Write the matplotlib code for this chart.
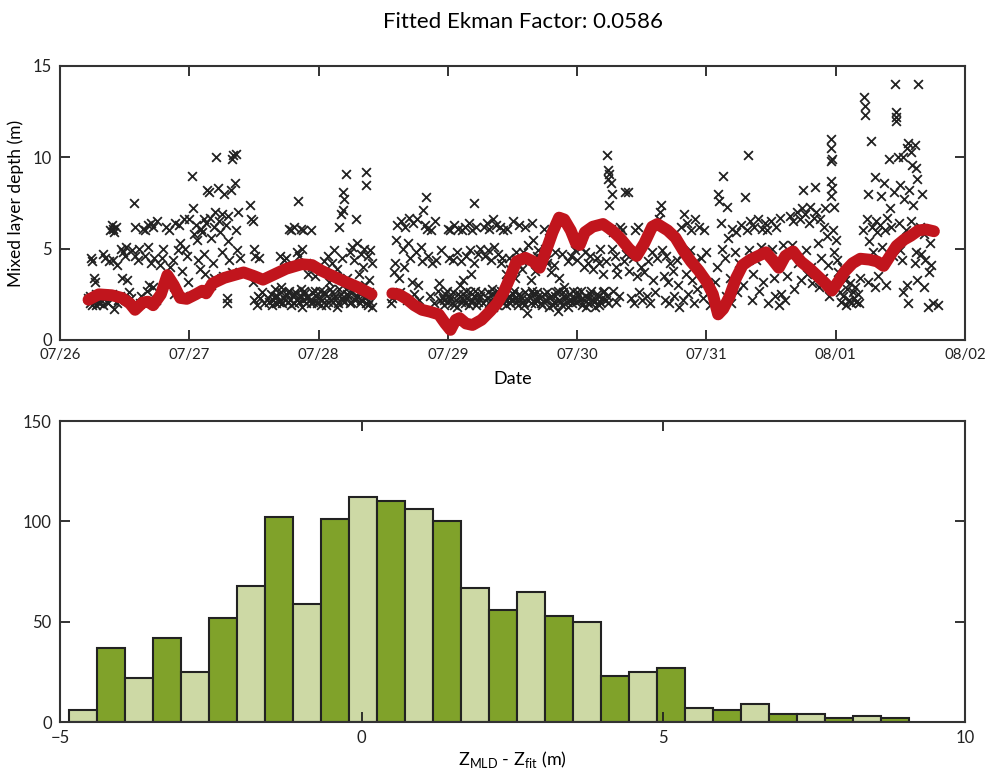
import numpy as np
import matplotlib
matplotlib.use("Agg")
import matplotlib.pyplot as plt

plt.rcParams['font.family'] = ['Lato', 'DejaVu Sans']
plt.rcParams['mathtext.fontset'] = 'custom'
plt.rcParams['mathtext.rm'] = 'Lato'

# --- top panel: observed mixed layer depth (days after 07/26) ---
mld_time = [
    0.22, 0.23, 0.24, 0.25, 0.26, 0.27, 0.27, 0.28, 0.29, 0.30, 0.31, 0.33, 0.33, 0.35, 0.36, 0.38, 0.39, 0.40, 0.41, 0.42,
    0.43, 0.41, 0.44, 0.42, 0.45, 0.40,
    0.47, 0.49, 0.50, 0.51, 0.48, 0.52, 0.53, 0.55, 0.57, 0.58, 0.56, 0.58, 0.60, 0.62, 0.63, 0.61, 0.64, 0.66, 0.68, 0.70,
    0.72, 0.66, 0.68, 0.70, 0.73, 0.69, 0.72, 0.74, 0.67, 0.75,
    0.77, 0.79, 0.80, 0.82, 0.84, 0.85, 0.87, 0.88, 0.89, 0.91, 0.92, 0.93, 0.94, 0.96, 0.97, 0.98, 0.99, 0.95, 1.00, 1.02,
    1.03, 1.04, 1.05, 1.06, 1.07, 1.08, 1.09, 1.10, 1.11, 1.12, 1.13, 1.14, 1.15, 1.16, 1.17, 1.18, 1.19, 1.20, 1.21, 1.22,
    1.23, 1.24, 1.25, 1.26, 1.27, 1.28, 1.29, 1.29, 1.30, 1.31, 1.32, 1.33, 1.34, 1.35, 1.36, 1.37, 1.36, 1.38, 1.39, 1.33,
    1.30, 1.25, 1.19, 1.11, 1.17,
    1.47, 1.48, 1.49, 1.50, 1.51, 1.50, 1.52, 1.53, 1.49, 1.54, 1.55, 1.56, 1.58,
    1.62, 1.63, 1.65, 1.66, 1.67, 1.68, 1.70, 1.71, 1.72, 1.73, 1.75, 1.76, 1.77, 1.78, 1.80, 1.81, 1.82, 1.84, 1.85, 1.86,
    1.88, 1.89, 1.90, 1.92, 1.93, 1.95, 1.96, 1.98, 1.99, 2.01, 1.73, 1.75, 1.77, 1.79, 1.81, 1.84, 1.86, 1.88, 1.83, 1.85,
    1.87, 1.90, 1.92, 1.95, 1.97, 1.70, 1.94,
    2.03, 2.05, 2.06, 2.08, 2.10, 2.11, 2.13, 2.15, 2.16, 2.18, 2.20, 2.22, 2.24, 2.26, 2.28, 2.30, 2.32, 2.34, 2.36, 2.38,
    2.40, 2.41, 2.04, 2.07, 2.10, 2.12, 2.14, 2.16, 2.17, 2.18, 2.19, 2.19, 2.20, 2.21, 2.22, 2.24, 2.25, 2.27, 2.29, 2.30,
    2.31, 2.33, 2.34, 2.35, 2.37, 2.37, 2.38, 2.39, 2.40, 2.41, 2.36, 2.26, 2.08, 2.13,
    2.56, 2.57, 2.58, 2.59, 2.60, 2.61, 2.62, 2.63, 2.64, 2.65, 2.66, 2.67, 2.68, 2.69, 2.70, 2.71, 2.72, 2.73, 2.74, 2.75,
    2.76, 2.77, 2.78, 2.79, 2.80, 2.81, 2.82, 2.83, 2.84, 2.85, 2.86, 2.87, 2.88, 2.89, 2.90, 2.91, 2.92, 2.93, 2.94, 2.95,
    2.96, 2.97, 2.98, 3.00, 3.01, 3.03, 3.04, 3.06, 3.07, 3.09, 3.10, 3.12, 3.13, 3.15, 3.17, 3.18, 3.20, 3.22, 3.24, 3.26,
    3.00, 3.02, 3.05, 3.08, 3.11, 3.13, 3.16, 3.19, 3.20, 3.22, 3.01, 3.04, 3.07, 3.10, 3.14, 3.17, 3.20, 3.23, 3.12, 3.18,
    3.09, 3.25,
    3.28, 3.30, 3.32, 3.35, 3.37, 3.40, 3.43, 3.46, 3.50, 3.55, 3.60, 3.65, 3.29, 3.31, 3.33, 3.36, 3.39, 3.42, 3.34, 3.38,
    3.30, 3.32, 3.34, 3.36, 3.38, 3.40, 3.42, 3.44, 3.46, 3.48, 3.50, 3.52, 3.54, 3.56, 3.58, 3.60, 3.61, 3.62, 3.64, 3.66,
    3.68, 3.70, 3.45, 3.48, 3.52, 3.55, 3.58, 3.62, 3.66, 3.69, 3.64, 3.67,
    3.72, 3.74, 3.76, 3.78, 3.80, 3.82, 3.84, 3.86, 3.88, 3.90, 3.92, 3.94, 3.96, 3.98, 4.00, 4.02, 4.04, 4.06, 4.08, 4.10,
    4.12, 4.14, 4.16, 4.18, 4.20, 4.22, 4.24, 3.85,
    3.72, 3.75, 3.77, 3.80, 3.83, 3.86, 3.74, 3.78, 3.90, 3.95, 4.00, 4.03, 4.06, 4.08, 4.12, 4.15, 4.18, 4.20, 4.22,
    4.23, 4.24, 4.24, 4.25, 4.26, 4.27, 4.25, 4.26, 4.28, 4.27, 4.29, 4.30, 4.31, 4.28, 4.30, 4.32, 4.33, 4.35, 4.37, 4.39,
    4.36, 4.38, 4.40, 4.42, 4.44, 4.45, 4.47, 4.43, 4.46, 4.48, 4.49, 4.50,
    4.52, 4.54, 4.55, 4.56, 4.58, 4.59, 4.60, 4.62, 4.63, 4.64, 4.65, 4.66, 4.67, 4.68, 4.69, 4.70, 4.71, 4.72, 4.74, 4.75,
    4.77, 4.78, 4.79, 4.80, 4.81, 4.82, 4.83, 4.84, 4.85, 4.86, 4.87, 4.88, 4.89, 4.90, 4.91, 4.92, 4.93, 4.94, 4.96, 4.97,
    4.98, 4.99, 5.00, 5.02, 5.03,
    5.07, 5.08, 5.09, 5.10, 5.11, 5.12, 5.13, 5.14, 5.15, 5.16, 5.17, 5.18, 5.19, 5.20, 5.22, 5.23, 5.24, 5.25, 5.27, 5.28,
    5.30, 5.32, 5.31, 5.33, 5.34, 5.35, 5.36, 5.37, 5.38, 5.40, 5.41, 5.42, 5.43, 5.44, 5.45, 5.46, 5.47, 5.48, 5.50, 5.51,
    5.52, 5.53, 5.54, 5.55, 5.56, 5.57, 5.58, 5.59,
    5.61, 5.62, 5.63, 5.65, 5.66, 5.67, 5.68, 5.70, 5.71, 5.72, 5.73, 5.75, 5.74, 5.76, 5.77, 5.78, 5.79, 5.80, 5.81, 5.82,
    5.83, 5.84, 5.85, 5.86, 5.87, 5.88, 5.89, 5.90, 5.91, 5.92, 5.93, 5.94, 5.95, 5.96, 5.96, 5.96, 5.97, 5.96, 5.97, 5.96,
    5.99, 5.98, 5.99, 6.00, 5.98,
    6.01, 6.02, 6.03, 6.04, 6.05, 6.06, 6.07, 6.08, 6.09, 6.10, 6.11, 6.12, 6.13, 6.14, 6.15, 6.16, 6.17, 6.18, 6.19,
    6.21, 6.22, 6.23, 6.23, 6.24, 6.25, 6.26, 6.27, 6.28, 6.29, 6.30, 6.31, 6.32, 6.33, 6.34, 6.35, 6.36, 6.37, 6.38, 6.39,
    6.40, 6.25, 6.30,
    6.41, 6.42, 6.43, 6.44, 6.45, 6.46, 6.47, 6.47, 6.47, 6.48, 6.49, 6.50, 6.51, 6.52, 6.52, 6.53, 6.54, 6.55, 6.56, 6.56,
    6.57, 6.58, 6.58, 6.59, 6.60, 6.61, 6.61, 6.62, 6.63, 6.63, 6.64, 6.65, 6.66, 6.67, 6.68, 6.69, 6.70, 6.71, 6.72, 6.73,
    6.74, 6.75, 6.68, 6.62, 6.55, 6.50, 6.79,
    # dense shallow band and mid band readings
    1.61, 1.64, 1.66, 1.69, 1.71, 1.74, 1.76, 1.79, 1.81, 1.83, 1.86, 1.87, 1.89, 1.91, 1.94, 1.97, 2.00, 2.02, 2.04, 2.07,
    2.09, 2.12, 2.14, 2.17, 2.19, 2.21, 2.23, 2.25, 2.27, 2.29, 2.31, 2.33, 2.35, 2.37, 2.39,
    2.97, 2.99, 3.02, 3.05, 3.08, 3.11, 3.14, 3.16, 3.19, 3.21, 3.23, 3.25, 3.27, 3.31, 3.33, 3.35, 3.37, 3.39, 3.41, 3.43,
    3.45, 3.47, 3.49, 3.51, 3.53, 3.55, 3.57, 3.59, 3.63, 3.65, 3.67, 3.69, 3.71, 3.73, 3.75, 3.77, 3.79, 3.81, 3.83, 3.85,
    3.87, 3.89, 3.91, 3.93, 3.95, 3.97, 3.99, 4.01, 4.03, 4.05, 4.07, 4.09, 4.11, 4.13, 4.15, 4.17, 4.19, 4.21, 4.23,
    0.23, 0.25, 0.26, 0.28, 0.30, 0.32, 0.34, 0.37, 0.44, 0.46,
    3.41, 3.47, 3.53, 3.57, 3.63, 3.70, 3.76, 3.82, 3.88, 3.93, 3.98, 4.05, 4.10, 4.17,
]
mld_depth = [
    2.3, 2.0, 4.5, 4.3, 3.4, 3.2, 2.2, 1.9, 2.1, 2.3, 2.0, 1.9, 4.7, 4.5, 2.1, 4.3, 6.0, 6.3, 6.1, 5.9,
    6.2, 4.4, 4.1, 1.7, 2.2, 2.5,
    5.0, 4.8, 4.6, 5.1, 3.4, 3.3, 2.6, 2.3, 7.5, 6.2, 4.9, 4.6, 4.4, 2.0, 2.4, 5.0, 6.1, 6.0, 6.3, 6.4,
    6.2, 4.6, 5.1, 4.2, 4.5, 3.0, 2.9, 2.2, 2.7, 6.5,
    4.1, 4.5, 5.0, 6.2, 6.0, 4.0, 4.4, 2.5, 6.4, 4.9, 6.3, 5.3, 3.8, 6.6, 5.0, 4.6, 3.2, 2.4, 6.6, 9.0,
    7.2, 5.8, 6.3, 5.5, 4.4, 3.9, 6.1, 5.9, 4.7, 3.6, 6.4, 8.2, 8.1, 6.7, 5.6, 4.2, 3.4, 7.0, 10.0, 8.3,
    6.5, 5.9, 4.8, 3.5, 8.0, 6.3, 2.3, 2.0, 6.8, 4.4, 8.2, 9.9, 10.1, 8.6, 6.0, 4.9, 10.2, 7.0, 4.5, 3.7,
    5.4, 6.9, 6.2, 6.6, 3.0,
    7.4, 6.6, 6.5, 5.0, 4.6, 2.2, 1.9, 2.4, 3.2, 4.5, 2.3, 2.6, 2.0,
    2.1, 2.5, 2.2, 2.8, 2.0, 2.4, 2.2, 2.6, 2.0, 2.3, 2.5, 2.1, 2.7, 2.2, 2.4, 2.0, 2.6, 2.3, 2.1, 2.8,
    2.2, 2.5, 2.0, 2.4, 2.2, 2.6, 2.1, 2.4, 2.0, 2.7, 4.4, 4.5, 6.1, 6.0, 6.2, 7.6, 6.1, 6.0, 4.8, 4.6,
    5.0, 4.2, 3.6, 4.0, 3.5, 4.6, 6.0,
    2.2, 2.5, 1.9, 2.3, 2.6, 2.1, 2.4, 2.0, 2.8, 2.3, 2.1, 2.5, 2.0, 2.6, 2.2, 2.4, 2.0, 2.7, 2.3, 1.9,
    2.1, 1.8, 4.3, 4.6, 4.2, 4.9, 3.9, 6.2, 6.9, 4.5, 7.1, 8.1, 7.7, 9.1, 3.4, 4.8, 3.0, 4.4, 6.6, 5.3,
    3.6, 4.7, 4.0, 5.0, 9.2, 8.5, 4.6, 3.3, 4.9, 4.2, 3.0, 5.1, 3.2, 3.5,
    2.0, 2.3, 3.7, 4.2, 5.5, 6.3, 3.4, 2.6, 6.5, 5.0, 4.0, 6.2, 2.2, 5.3, 6.7, 4.5, 3.2, 6.4, 2.5, 4.8,
    6.6, 3.0, 2.2, 5.1, 4.3, 7.1, 6.3, 7.8, 6.1, 4.6, 2.4, 6.0, 4.2, 2.0, 6.5, 4.4, 2.7, 3.1, 2.2, 4.9,
    2.3, 1.9, 2.5, 2.1, 2.4, 2.0, 2.6, 2.2, 1.8, 2.4, 2.1, 2.5, 2.0, 2.3, 2.6, 2.1, 2.4, 1.9, 2.3, 2.6,
    6.1, 6.0, 6.3, 6.1, 6.0, 6.2, 6.4, 6.0, 7.5, 6.2, 4.5, 4.4, 4.8, 4.3, 4.6, 4.9, 4.2, 4.7, 3.3, 3.6,
    3.0, 5.0,
    6.2, 6.4, 6.1, 6.6, 6.3, 6.2, 6.0, 6.1, 6.5, 6.3, 6.2, 6.4, 4.6, 4.9, 4.4, 5.1, 4.7, 4.5, 2.8, 2.7,
    2.3, 2.0, 2.5, 2.2, 1.9, 2.4, 2.1, 2.6, 2.2, 2.0, 2.5, 2.3, 1.9, 2.4, 2.1, 2.6, 1.5, 2.2, 2.0, 2.5,
    2.2, 2.4, 3.6, 3.9, 3.4, 4.1, 4.8, 5.2, 5.5, 4.6, 3.3, 3.8,
    2.0, 2.5, 2.2, 1.8, 2.4, 2.1, 2.6, 2.2, 1.9, 2.4, 2.1, 2.5, 2.0, 2.3, 2.6, 2.2, 1.9, 2.4, 2.0, 2.5,
    2.2, 1.8, 2.4, 2.1, 2.6, 2.2, 2.0, 1.6,
    4.5, 5.0, 4.2, 3.7, 4.8, 3.4, 6.1, 5.6, 2.9, 4.6, 4.4, 5.1, 4.8, 4.2, 3.9, 4.5, 5.0, 3.6, 4.3,
    10.1, 9.3, 8.8, 9.1, 8.6, 8.0, 7.4, 6.1, 5.9, 5.0, 4.6, 4.0, 3.6, 2.7, 2.1, 2.4, 6.2, 6.0, 8.1, 8.1,
    4.3, 4.7, 3.8, 2.3, 2.0, 6.0, 6.2, 4.5, 3.5, 2.6, 4.0, 2.2,
    3.7, 2.4, 4.3, 2.0, 4.8, 3.3, 2.6, 4.5, 6.6, 7.0, 7.4, 4.9, 3.5, 2.2, 4.6, 3.2, 2.0, 4.2, 3.8, 2.4,
    4.4, 3.0, 1.8, 6.2, 4.7, 2.2, 6.9, 3.6, 6.4, 2.5, 4.9, 6.0, 3.3, 2.0, 6.6, 4.3, 2.8, 6.2, 4.5, 2.3,
    6.0, 3.1, 4.8, 2.6, 1.9,
    3.2, 4.0, 8.0, 7.6, 6.4, 5.0, 9.0, 4.5, 2.4, 7.3, 5.6, 3.4, 2.0, 6.1, 4.8, 5.9, 2.6, 4.2, 6.3, 3.0,
    7.8, 10.1, 6.0, 4.9, 6.5, 2.2, 3.6, 6.2, 4.4, 6.6, 2.7, 5.1, 6.1, 3.2, 6.4, 4.7, 6.0, 2.0, 6.5, 5.0,
    3.4, 2.4, 6.2, 4.3, 1.9, 6.7, 2.5, 5.2,
    2.2, 3.5, 4.7, 6.8, 5.2, 6.5, 2.8, 7.0, 4.2, 6.6, 3.3, 8.2, 7.2, 6.9, 4.9, 3.6, 6.4, 7.3, 4.0, 3.1,
    6.7, 8.4, 7.0, 5.3, 2.9, 6.6, 4.5, 3.4, 6.2, 7.2, 5.7, 4.1, 2.4, 11.0, 10.5, 9.8, 9.9, 8.7, 8.3, 7.9,
    7.3, 6.0, 4.8, 5.5, 3.0,
    4.4, 3.7, 2.6, 2.1, 4.0, 2.4, 3.3, 1.9, 2.8, 2.2, 3.1, 2.0, 2.6, 2.3, 2.9, 2.1, 2.5, 2.0, 3.4,
    6.0, 13.3, 12.8, 12.3, 6.6, 8.0, 5.4, 10.9, 6.2, 4.8, 8.9, 6.5, 5.9, 3.5, 6.3, 7.9, 5.1, 8.6, 6.0, 3.0,
    6.7, 3.2, 2.9,
    9.9, 7.2, 6.2, 4.6, 8.1, 14.0, 12.5, 12.2, 12.0, 10.0, 6.4, 8.5, 4.4, 2.6, 10.0, 7.7, 6.0, 10.5, 10.8, 2.0,
    8.2, 10.3, 6.5, 9.6, 7.4, 4.2, 10.7, 9.4, 8.8, 3.3, 14.0, 6.2, 4.7, 8.0, 2.9, 4.4, 6.0, 1.8, 3.7, 5.3,
    4.1, 2.0, 5.8, 4.8, 3.0, 4.9, 1.9,
    # dense shallow band and mid band readings
    2.3, 1.9, 2.4, 2.1, 2.9, 2.2, 2.6, 1.9, 2.5, 2.2, 2.4, 1.8, 2.7, 2.3, 2.0, 2.7, 2.3, 1.9, 2.6, 2.1,
    2.8, 2.3, 1.8, 2.5, 2.2, 2.8, 2.4, 2.1, 2.9, 2.3, 2.6, 2.2, 2.5, 2.0, 2.6,
    2.2, 2.7, 2.3, 1.9, 2.5, 2.3, 2.7, 1.9, 2.2, 2.7, 2.1, 2.4, 2.0, 2.6, 2.2, 1.8, 2.4, 2.2, 2.7, 2.3,
    1.9, 2.4, 2.2, 2.7, 2.1, 2.5, 2.3, 1.9, 2.4, 2.7, 2.0, 2.6, 2.3, 1.9, 2.2, 2.6, 2.3, 1.9, 2.4, 2.7,
    2.1, 2.6, 2.3, 1.8, 2.2, 2.7, 2.1, 2.4, 2.7, 2.2, 1.8, 2.3, 2.7, 2.1, 2.5, 1.9, 2.3, 2.7, 2.4,
    2.4, 1.9, 2.2, 2.5, 2.0, 2.2, 2.4, 2.0, 2.0, 2.4,
    4.2, 4.5, 4.8, 3.9, 4.4, 4.9, 4.4, 4.1, 4.7, 4.3, 4.9, 4.0, 4.6, 4.2,
]

# fitted Ekman depth (red line), two segments separated by a data gap
fit_time_a = [0.22, 0.30, 0.40, 0.48, 0.54, 0.58, 0.64, 0.68, 0.72, 0.78, 0.83, 0.88, 0.93, 0.98,
              1.05, 1.10, 1.13, 1.18, 1.27, 1.37, 1.42, 1.50, 1.57, 1.63, 1.75, 1.87, 1.95, 2.02,
              2.17, 2.30, 2.41]
fit_depth_a = [2.20, 2.50, 2.45, 2.30, 2.00, 1.65, 2.05, 2.10, 1.90, 2.50, 3.55, 3.00, 2.30, 2.25,
               2.50, 2.70, 2.55, 3.10, 3.40, 3.60, 3.70, 3.50, 3.30, 3.50, 3.90, 4.15, 4.10, 3.80,
               3.30, 2.90, 2.50]
fit_time_b = [2.57, 2.62, 2.68, 2.74, 2.80, 2.86, 2.93, 2.98, 3.02, 3.06, 3.09, 3.14, 3.19, 3.26,
              3.33, 3.38, 3.43, 3.48, 3.53, 3.60, 3.66, 3.71, 3.76, 3.81, 3.86, 3.90, 3.95, 3.99,
              4.02, 4.06, 4.12, 4.20, 4.27, 4.33, 4.40, 4.46, 4.52, 4.58, 4.62, 4.70, 4.76, 4.82,
              4.88, 4.94, 5.00, 5.05, 5.09, 5.13, 5.18, 5.23, 5.28, 5.34, 5.40, 5.46, 5.51, 5.56,
              5.61, 5.67, 5.73, 5.80, 5.86, 5.92, 5.97, 6.02, 6.07, 6.13, 6.19, 6.26, 6.32, 6.37,
              6.42, 6.47, 6.53, 6.58, 6.64, 6.70, 6.76]
fit_depth_b = [2.55, 2.50, 2.25, 1.90, 1.65, 1.55, 1.40, 0.90, 0.55, 1.10, 1.20, 0.90, 0.82, 1.10,
               1.60, 2.00, 2.60, 3.40, 4.30, 4.50, 4.30, 3.95, 4.90, 5.90, 6.70, 6.60, 6.00, 5.30,
               5.20, 5.90, 6.20, 6.35, 6.00, 5.60, 5.00, 4.60, 5.30, 6.20, 6.35, 6.00, 5.60, 4.90,
               4.30, 3.80, 3.20, 2.50, 1.40, 1.70, 2.40, 3.40, 4.10, 4.40, 4.60, 4.80, 4.40, 3.95,
               4.60, 4.85, 4.30, 3.90, 3.50, 3.10, 2.70, 3.20, 3.75, 4.20, 4.45, 4.40, 4.30, 4.05,
               4.60, 5.15, 5.50, 5.70, 6.00, 6.05, 5.95]

date_labels = ['07/26', '07/27', '07/28', '07/29', '07/30', '07/31', '08/01', '08/02']

# --- bottom panel: histogram of residuals ---
hist_counts = [6, 37, 22, 42, 25, 52, 68, 102, 59, 101, 112, 110, 106, 100, 67,
               56, 65, 53, 50, 23, 25, 27, 7, 6, 9, 4, 4, 2, 3, 2]
hist_lo, hist_hi = -4.85, 9.08

fig = plt.figure(figsize=(9.86, 7.69), dpi=100)
ink = '#222222'

ax1 = fig.add_axes([0.0609, 0.5579, 0.9178, 0.3563])
ax1.scatter(mld_time, mld_depth, marker='x', s=40, c=ink, linewidths=1.3, zorder=2)
for t, d in [(fit_time_a, fit_depth_a), (fit_time_b, fit_depth_b)]:
    ax1.plot(t, d, color='#c1151d', lw=8.5, solid_capstyle='round', solid_joinstyle='round', zorder=3)
ax1.set_xlim(0, 7)
ax1.set_ylim(0, 15)
ax1.set_xticks(range(8))
ax1.set_xticklabels(date_labels, fontsize=10.8)
ax1.set_yticks([0, 5, 10, 15])
ax1.set_xlabel('Date', fontsize=13, labelpad=6)
ax1.set_ylabel('Mixed layer depth (m)', fontsize=12.5, labelpad=6)

ax2 = fig.add_axes([0.0609, 0.0611, 0.9178, 0.3914])
edges = np.linspace(hist_lo, hist_hi, len(hist_counts) + 1)
colors = ['#cdd9a5' if i % 2 == 0 else '#80a22a' for i in range(len(hist_counts))]
ax2.bar(edges[:-1], hist_counts, width=np.diff(edges), align='edge',
        color=colors, edgecolor=ink, linewidth=1.5)
ax2.set_xlim(-5, 10)
ax2.set_ylim(0, 150)
ax2.set_xticks([-5, 0, 5, 10])
ax2.set_xticklabels(['\u22125', '0', '5', '10'])
ax2.set_yticks([0, 50, 100, 150])
ax2.set_xlabel(r'Z$_{\mathrm{MLD}}$ - Z$_{\mathrm{fit}}$ (m)', fontsize=13, labelpad=2)

for ax in (ax1, ax2):
    ax.tick_params(direction='in', top=True, right=True, length=7, width=1.3,
                   colors=ink, pad=6)
    ax.tick_params(axis='y', labelsize=12)
    for s in ax.spines.values():
        s.set_linewidth(1.5)
        s.set_color('#333333')
ax2.tick_params(axis='x', labelsize=12)

fig.text(0.530, 0.971, 'Fitted Ekman Factor: 0.0586', fontsize=16, ha='center', va='center')

fig.savefig('out.png', dpi=100)
